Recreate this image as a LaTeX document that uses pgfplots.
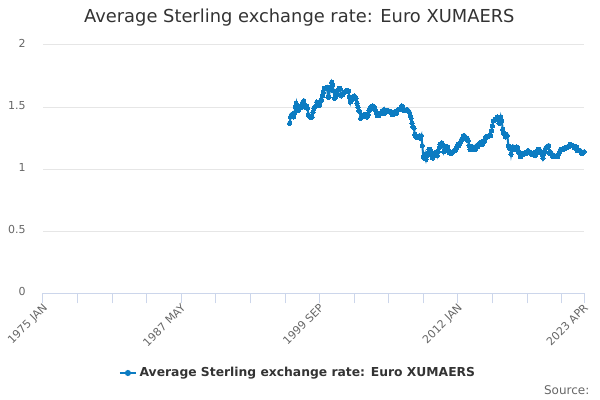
\documentclass[border=0pt]{standalone}
\usepackage{fontspec}
\setmainfont{DejaVu Sans}
\usepackage{pgfplots}
\usepackage{pgfplotstable}
\pgfplotsset{compat=1.18}
\definecolor{sblue}{HTML}{0C7CC2}
\definecolor{axblue}{HTML}{CCD6EB}
\definecolor{gridgrey}{HTML}{E6E6E6}
\definecolor{txt}{HTML}{333333}
\definecolor{lbl}{HTML}{666666}
\pgfplotstableread{
v
1.37
1.42
1.44
1.43
1.42
1.45
1.50
1.53
1.47
1.47
1.49
1.50
1.51
1.50
1.54
1.55
1.50
1.51
1.51
1.49
1.44
1.43
1.42
1.42
1.42
1.46
1.49
1.50
1.51
1.54
1.53
1.51
1.52
1.55
1.56
1.59
1.62
1.65
1.65
1.65
1.66
1.58
1.58
1.64
1.66
1.70
1.68
1.63
1.57
1.58
1.60
1.61
1.64
1.65
1.65
1.59
1.60
1.60
1.62
1.62
1.63
1.63
1.63
1.63
1.58
1.54
1.57
1.56
1.58
1.59
1.57
1.57
1.53
1.50
1.47
1.46
1.41
1.42
1.42
1.43
1.44
1.44
1.44
1.42
1.44
1.47
1.49
1.50
1.49
1.51
1.50
1.49
1.47
1.45
1.43
1.43
1.44
1.45
1.45
1.47
1.46
1.48
1.45
1.46
1.47
1.47
1.47
1.46
1.46
1.46
1.44
1.44
1.46
1.46
1.45
1.47
1.48
1.48
1.48
1.49
1.51
1.50
1.48
1.47
1.47
1.48
1.48
1.47
1.46
1.43
1.41
1.37
1.34
1.33
1.28
1.26
1.26
1.26
1.26
1.27
1.25
1.27
1.19
1.10
1.09
1.12
1.08
1.11
1.13
1.16
1.16
1.15
1.11
1.09
1.11
1.11
1.13
1.14
1.11
1.14
1.17
1.20
1.19
1.21
1.19
1.14
1.16
1.18
1.18
1.18
1.15
1.13
1.14
1.13
1.13
1.14
1.15
1.15
1.16
1.18
1.20
1.19
1.20
1.22
1.24
1.24
1.27
1.27
1.25
1.24
1.25
1.23
1.19
1.16
1.16
1.18
1.18
1.17
1.16
1.16
1.19
1.18
1.19
1.20
1.21
1.22
1.20
1.21
1.22
1.24
1.26
1.26
1.26
1.27
1.27
1.27
1.31
1.35
1.39
1.39
1.40
1.40
1.42
1.41
1.37
1.37
1.42
1.39
1.32
1.29
1.28
1.26
1.28
1.27
1.19
1.17
1.18
1.12
1.16
1.18
1.16
1.17
1.16
1.18
1.17
1.14
1.13
1.10
1.11
1.12
1.12
1.13
1.13
1.13
1.13
1.15
1.14
1.14
1.13
1.12
1.12
1.13
1.13
1.11
1.13
1.15
1.16
1.16
1.15
1.13
1.12
1.09
1.12
1.14
1.17
1.18
1.18
1.19
1.13
1.14
1.13
1.11
1.10
1.11
1.10
1.10
1.11
1.10
1.12
1.14
1.16
1.16
1.16
1.16
1.17
1.17
1.17
1.18
1.18
1.18
1.20
1.19
1.19
1.19
1.18
1.17
1.18
1.18
1.15
1.15
1.15
1.15
1.13
1.13
1.13
1.14
}\ratedata
\begin{document}
\begin{tikzpicture}
\useasboundingbox (0,0) rectangle (450pt,-300pt);
\begin{axis}[
  at={(32.25pt,-220.1pt)}, anchor=south west,
  scale only axis,
  width=405.75pt, height=186.4pt,
  xmin=0, xmax=579, ymin=0, ymax=2,
  axis x line*=bottom, axis y line*=left,
  x axis line style={draw=axblue, line width=0.75pt, -},
  y axis line style={draw=none},
  xtick={0,148,296,444,579},
  xticklabels={1975 JAN,1987 MAY,1999 SEP,2012 JAN,2023 APR},
  minor xtick={37,74,111,185,222,259,333,370,407,481,518,555},
  ytick={0,0.5,1,1.5,2},
  yticklabels={0,0.5,1,1.5,2},
  tick align=outside,
  major tick length=7.5pt, minor tick length=7.5pt,
  xtick style={draw=axblue, line width=0.75pt},
  minor x tick style={draw=axblue, line width=0.75pt},
  ytick style={draw=none},
  ymajorgrids, major grid style={draw=gridgrey, line width=0.75pt},
  xticklabel style={rotate=45, anchor=north east, font=\fontsize{8.25}{10}\selectfont, text=lbl, inner sep=1pt, xshift=1pt, yshift=2pt},
  yticklabel style={anchor=east, font=\fontsize{8.25}{10}\selectfont, text=lbl, xshift=-2pt, yshift=1.5pt},
  /pgf/number format/assume math mode=true,
  legend style={at={(0.472,-0.32)}, anchor=center, draw=none, fill=none,
    font=\bfseries\fontsize{9.25}{11}\selectfont, text=txt, inner sep=0pt},
  legend image code/.code={\draw[#1, line width=1.5pt] (0pt,0pt) -- (12pt,0pt); \fill[sblue] (6pt,0pt) circle (1.5pt);},
  clip=false,
]
\addplot[color=sblue, line width=1.5pt, mark=*, mark size=1.6pt, mark options={fill=sblue, draw=sblue, line width=0pt}]
  table[x expr=\coordindex+264, y=v] {\ratedata};
\addlegendentry{Average Sterling exchange rate: Euro XUMAERS}
\end{axis}
\node[text=txt, font=\fontsize{13.4}{16}\selectfont] at (224.5pt,-13.5pt) {Average Sterling exchange rate: Euro XUMAERS};
\node[text=lbl, font=\fontsize{9}{11}\selectfont, anchor=east] at (445.5pt,-292.5pt) {Source:};
\end{tikzpicture}
\end{document}
